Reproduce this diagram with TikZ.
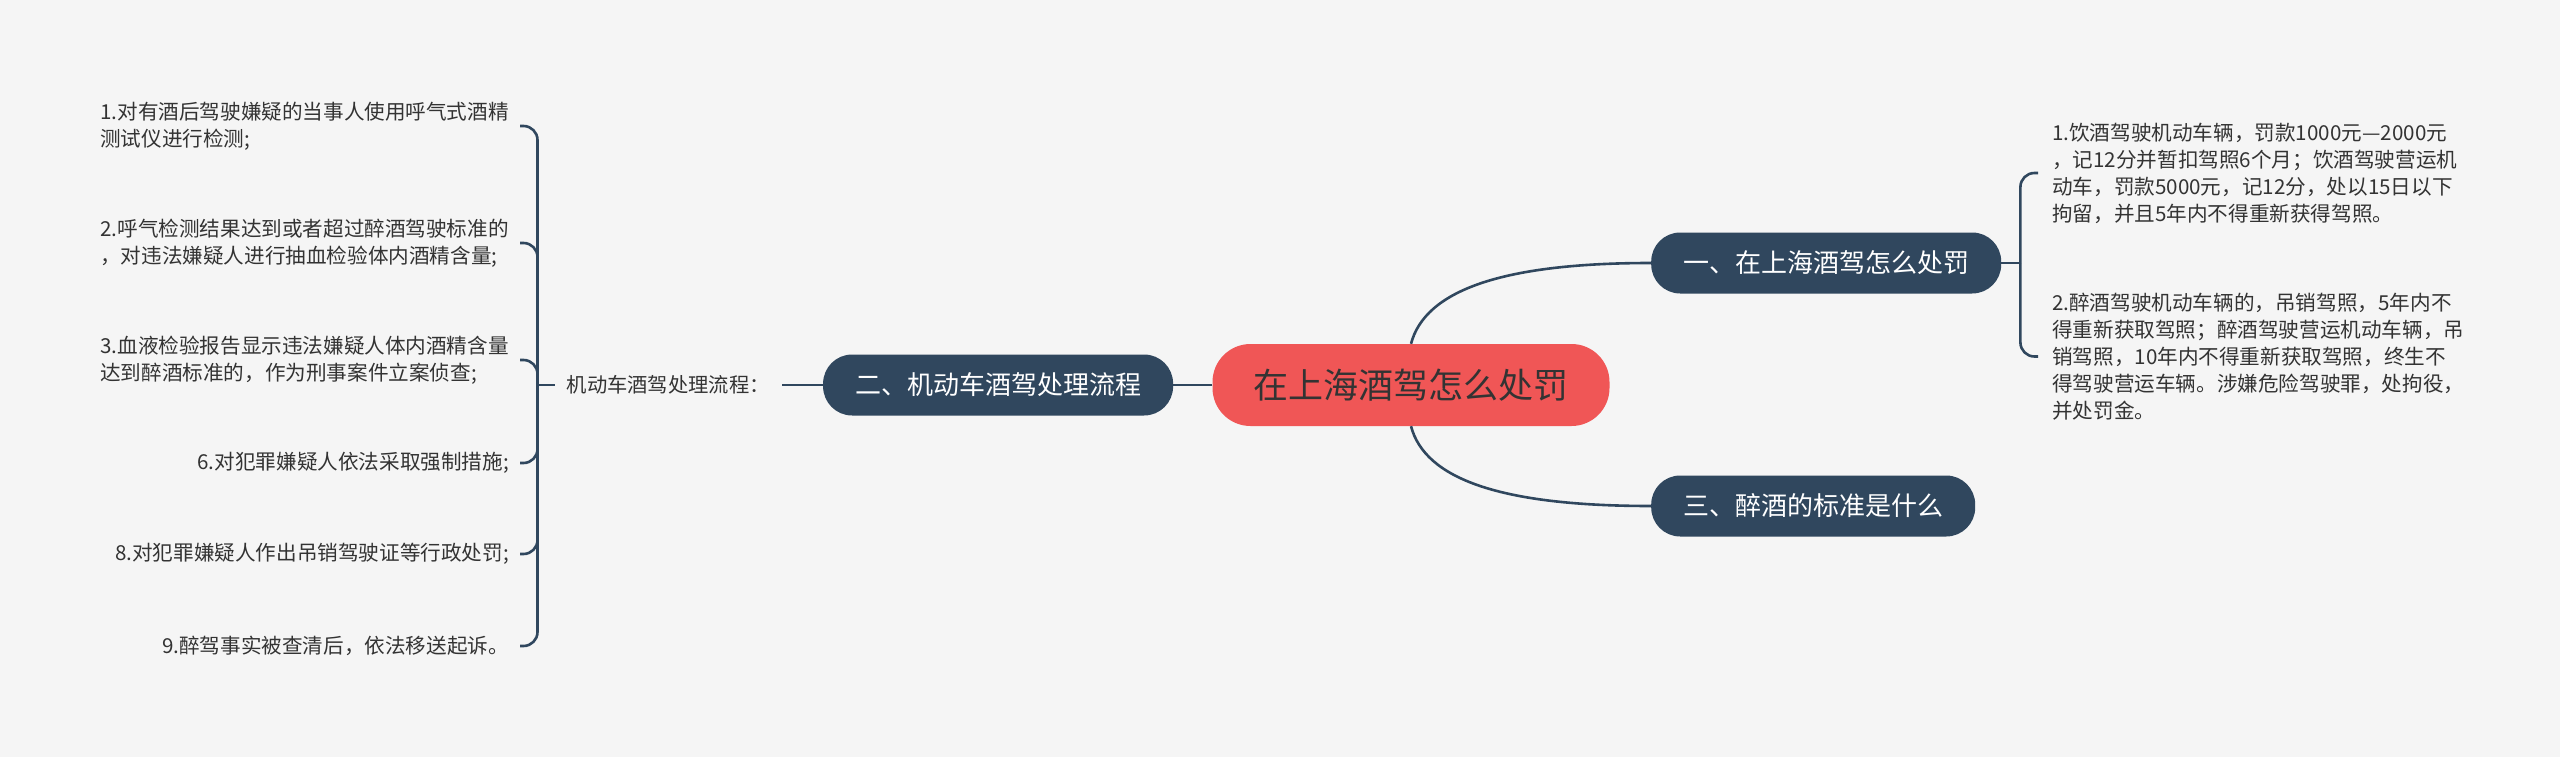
\documentclass[tikz,border=0pt]{standalone}
\usepackage{fontspec}
\setmainfont{Noto Sans CJK SC}
\usepackage{xcolor}
\usepackage{tikz}
\usetikzlibrary{positioning}
\definecolor{JD_DARK}{HTML}{30475E}
\definecolor{JD_RED}{HTML}{F05656}
\definecolor{JD_BG}{HTML}{F5F5F5}
\definecolor{JD_TEXT}{HTML}{333333}
\tikzset{
  root/.style={
    rectangle, rounded corners=38pt,
    minimum height=82pt, inner xsep=41pt,
    text centered, fill=JD_RED, text=JD_TEXT,
    font=\fontsize{35}{42}\selectfont},
  topic/.style={
    rectangle, rounded corners=29pt,
    minimum height=61pt, inner xsep=32pt,
    text centered, fill=JD_DARK, text=white,
    font=\fontsize{26}{30}\selectfont},
  note/.style={
    inner xsep=12pt, inner ysep=0pt, text=JD_TEXT,
    font=\fontsize{20.3}{27}\selectfont},
  leaf/.style={
    inner sep=0pt, align=left, text=JD_TEXT,
    font=\fontsize{20.6}{27}\selectfont},
  link/.style={line width=2.6pt, color=JD_DARK},
}

\begin{document}
\begin{tikzpicture}[x=1pt, y=1pt]

  \fill[JD_BG] (0,0) rectangle (2560,-757);
  \useasboundingbox (0,0) rectangle (2560,-757);

  \node[root] (centre) at (1411,-385) {在上海酒驾怎么处罚};

  \node[topic, anchor=west] (b1) at (1651,-263) {一、在上海酒驾怎么处罚};
  \node[topic, left=39pt of centre] (b2) {二、机动车酒驾处理流程};
  \node[topic, anchor=west] (b3) at (1651,-506) {三、醉酒的标准是什么};

  \node[note, left=41pt of b2] (lab) {机动车酒驾处理流程：};
  \coordinate[left=17pt of lab] (lj);

  \node[leaf, anchor=east] (l1) at (509,-126)
    {1.对有酒后驾驶嫌疑的当事人使用呼气式酒精\\测试仪进行检测;};
  \node[leaf, anchor=east] (l2) at (509,-243)
    {2.呼气检测结果达到或者超过醉酒驾驶标准的\\，对违法嫌疑人进行抽血检验体内酒精含量;};
  \node[leaf, anchor=east] (l3) at (509,-360)
    {3.血液检验报告显示违法嫌疑人体内酒精含量\\达到醉酒标准的，作为刑事案件立案侦查;};
  \node[leaf, anchor=east] (l6) at (509,-463) {6.对犯罪嫌疑人依法采取强制措施;};
  \node[leaf, anchor=east] (l8) at (509,-554) {8.对犯罪嫌疑人作出吊销驾驶证等行政处罚;};
  \node[leaf, anchor=east] (l9) at (509,-646) {9.醉驾事实被查清后，依法移送起诉。};

  \coordinate[right=19pt of b1] (rj);

  \node[leaf, anchor=west] (r1) at (2052,-173)
    {1.饮酒驾驶机动车辆，罚款1000元—2000元\\，记12分并暂扣驾照6个月；饮酒驾驶营运机\\动车，罚款5000元，记12分，处以15日以下\\拘留，并且5年内不得重新获得驾照。};
  \node[leaf, anchor=west] (r2) at (2052,-356.5)
    {2.醉酒驾驶机动车辆的，吊销驾照，5年内不\\得重新获取驾照；醉酒驾驶营运机动车辆，吊\\销驾照，10年内不得重新获取驾照，终生不\\得驾驶营运车辆。涉嫌危险驾驶罪，处拘役，\\并处罚金。};

  \draw[link] (centre.north) .. controls +(14,53) and +(-150,0) .. (b1.west);
  \draw[link] (centre.south) .. controls +(14,-53) and +(-150,0) .. (b3.west);
  \draw[link] (centre) -- (b2);
  \draw[link] (b2) -- (lab);
  \draw[link] (lab) -- (lj);
  \foreach \n in {l1,l2,l3,l6,l8,l9}
    \draw[link, rounded corners=14pt] (lj) |- ([xshift=11pt]\n.east);

  \draw[link] (b1) -- (rj);
  \foreach \n in {r1,r2}
    \draw[link, rounded corners=14pt] (rj) |- ([xshift=-14pt]\n.west);

\end{tikzpicture}
\end{document}
